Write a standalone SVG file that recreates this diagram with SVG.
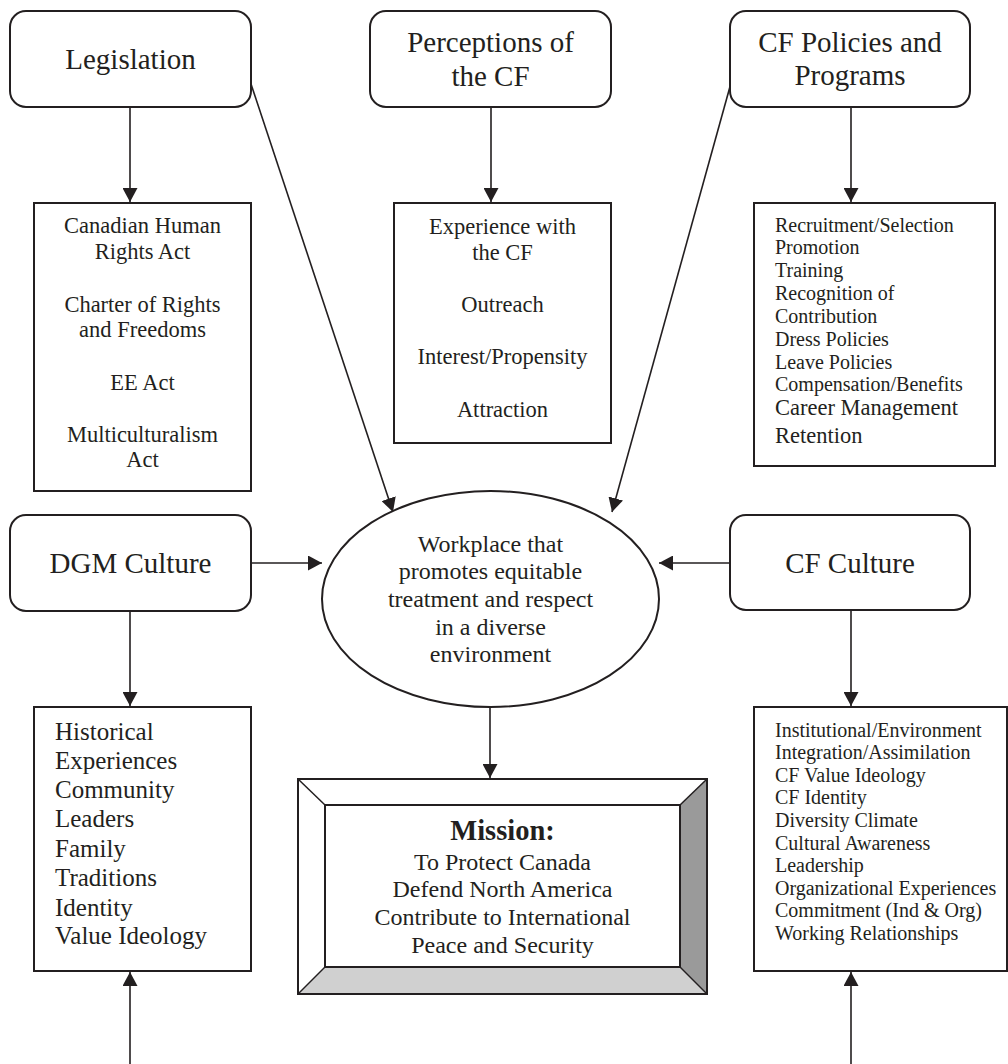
<svg xmlns="http://www.w3.org/2000/svg" width="1008" height="1064" viewBox="0 0 1008 1064">
<defs>
<marker id="ah" markerUnits="userSpaceOnUse" markerWidth="15" markerHeight="15" refX="14" refY="7.5" orient="auto">
<path d="M0,0 L14,7.5 L0,15 z" fill="#231f20"/>
</marker>
<style>
.rb{fill:#fff;stroke:#231f20;stroke-width:2}
.bx{fill:#fff;stroke:#231f20;stroke-width:2}
.t{font-family:"Liberation Serif","Times New Roman",serif;fill:#231f20}
.h{font-size:29px;text-anchor:middle}
.c{font-size:22.5px;text-anchor:middle}
.l20{font-size:20px}
.ln{stroke:#231f20;stroke-width:1.6;fill:none;marker-end:url(#ah)}
</style>
</defs>
<rect width="1008" height="1064" fill="#fff"/>

<g id="connectors">
<line class="ln" x1="130" y1="107" x2="130" y2="202"/>
<line class="ln" x1="491" y1="107" x2="491" y2="202"/>
<line class="ln" x1="851" y1="107" x2="851" y2="202"/>
<line class="ln" x1="251" y1="84" x2="393" y2="512"/>
<line class="ln" x1="731" y1="83" x2="612" y2="512"/>
<line class="ln" x1="251" y1="563" x2="322" y2="563"/>
<line class="ln" x1="730" y1="563" x2="659" y2="563"/>
<line class="ln" x1="130" y1="611" x2="130" y2="706"/>
<line class="ln" x1="851" y1="610" x2="851" y2="706"/>
<line class="ln" x1="490" y1="707" x2="490" y2="778"/>
<line class="ln" x1="130" y1="1064" x2="130" y2="972"/>
<line class="ln" x1="851" y1="1064" x2="851" y2="972"/>
</g>

<g id="legislation">
<rect class="rb" x="10" y="11" width="241" height="96" rx="16"/>
<text class="t h" x="130.5" y="69">Legislation</text>
</g>

<g id="perceptions">
<rect class="rb" x="370" y="11" width="241" height="96" rx="16"/>
<text class="t h" x="490.5" y="52">Perceptions of</text>
<text class="t h" x="490.5" y="86">the CF</text>
</g>

<g id="cf-policies">
<rect class="rb" x="730" y="11" width="240" height="96" rx="16"/>
<text class="t h" x="850" y="52">CF Policies and</text>
<text class="t h" x="850" y="85">Programs</text>
</g>

<g id="legislation-list">
<rect class="bx" x="34" y="203" width="217" height="288"/>
<text class="t c" x="142.5" y="233">Canadian Human</text>
<text class="t c" x="142.5" y="259">Rights Act</text>
<text class="t c" x="142.5" y="312">Charter of Rights</text>
<text class="t c" x="142.5" y="337">and Freedoms</text>
<text class="t c" x="142.5" y="390">EE Act</text>
<text class="t c" x="142.5" y="442">Multiculturalism</text>
<text class="t c" x="142.5" y="467">Act</text>
</g>

<g id="perceptions-list">
<rect class="bx" x="394" y="203" width="217" height="240"/>
<text class="t c" x="502.5" y="234">Experience with</text>
<text class="t c" x="502.5" y="260">the CF</text>
<text class="t c" x="502.5" y="312">Outreach</text>
<text class="t c" x="502.5" y="364">Interest/Propensity</text>
<text class="t c" x="502.5" y="417">Attraction</text>
</g>

<g id="policies-list">
<rect class="bx" x="754" y="203" width="241" height="263"/>
<text class="t l20" x="775" y="232">Recruitment/Selection</text>
<text class="t l20" x="775" y="254">Promotion</text>
<text class="t l20" x="775" y="277">Training</text>
<text class="t l20" x="775" y="300">Recognition of</text>
<text class="t l20" x="775" y="323">Contribution</text>
<text class="t l20" x="775" y="346">Dress Policies</text>
<text class="t l20" x="775" y="369">Leave Policies</text>
<text class="t l20" x="775" y="391">Compensation/Benefits</text>
<text class="t" style="font-size:22.5px" x="775" y="415">Career Management</text>
<text class="t" style="font-size:22.5px" x="775" y="443">Retention</text>
</g>

<g id="dgm-culture">
<rect class="rb" x="10" y="515" width="241" height="96" rx="16"/>
<text class="t h" x="130.5" y="573">DGM Culture</text>
</g>

<g id="workplace">
<ellipse cx="490.5" cy="599" rx="168.5" ry="108" fill="#fff" stroke="#231f20" stroke-width="2"/>
<text class="t" style="font-size:24px;text-anchor:middle" x="490.5" y="552">Workplace that</text>
<text class="t" style="font-size:24px;text-anchor:middle" x="490.5" y="579">promotes equitable</text>
<text class="t" style="font-size:24px;text-anchor:middle" x="490.5" y="607">treatment and respect</text>
<text class="t" style="font-size:24px;text-anchor:middle" x="490.5" y="635">in a diverse</text>
<text class="t" style="font-size:24px;text-anchor:middle" x="490.5" y="662">environment</text>
</g>

<g id="cf-culture">
<rect class="rb" x="730" y="515" width="240" height="95" rx="16"/>
<text class="t h" x="850" y="573">CF Culture</text>
</g>

<g id="dgm-list">
<rect class="bx" x="34" y="707" width="217" height="264"/>
<text class="t" style="font-size:25px" x="55" y="740">Historical</text>
<text class="t" style="font-size:25px" x="55" y="769">Experiences</text>
<text class="t" style="font-size:25px" x="55" y="798">Community</text>
<text class="t" style="font-size:25px" x="55" y="827">Leaders</text>
<text class="t" style="font-size:25px" x="55" y="857">Family</text>
<text class="t" style="font-size:25px" x="55" y="886">Traditions</text>
<text class="t" style="font-size:25px" x="55" y="916">Identity</text>
<text class="t" style="font-size:25px" x="55" y="944">Value Ideology</text>
</g>

<g id="cf-culture-list">
<rect class="bx" x="754" y="707" width="253" height="264"/>
<text class="t l20" x="775" y="737">Institutional/Environment</text>
<text class="t l20" x="775" y="759">Integration/Assimilation</text>
<text class="t l20" x="775" y="782">CF Value Ideology</text>
<text class="t l20" x="775" y="804">CF Identity</text>
<text class="t l20" x="775" y="827">Diversity Climate</text>
<text class="t l20" x="775" y="850">Cultural Awareness</text>
<text class="t l20" x="775" y="872">Leadership</text>
<text class="t l20" x="775" y="895">Organizational Experiences</text>
<text class="t l20" x="775" y="917">Commitment (Ind &amp; Org)</text>
<text class="t l20" x="775" y="940">Working Relationships</text>
</g>

<g id="mission">
<rect x="298" y="779" width="409" height="215" fill="#fff"/>
<polygon points="680,805 707,779 707,994 680,967" fill="#9a9a9a"/>
<polygon points="325,967 680,967 707,994 298,994" fill="#d0d0d0"/>
<rect x="298" y="779" width="409" height="215" fill="none" stroke="#231f20" stroke-width="2"/>
<rect x="325" y="805" width="355" height="162" fill="none" stroke="#231f20" stroke-width="2"/>
<line x1="298" y1="779" x2="325" y2="805" stroke="#231f20" stroke-width="1.5"/>
<line x1="707" y1="779" x2="680" y2="805" stroke="#231f20" stroke-width="1.5"/>
<line x1="298" y1="994" x2="325" y2="967" stroke="#231f20" stroke-width="1.5"/>
<line x1="707" y1="994" x2="680" y2="967" stroke="#231f20" stroke-width="1.5"/>
<text class="t" style="font-size:28.5px;font-weight:bold;text-anchor:middle" x="502.5" y="840">Mission:</text>
<text class="t" style="font-size:24px;text-anchor:middle" x="502.5" y="870">To Protect Canada</text>
<text class="t" style="font-size:24px;text-anchor:middle" x="502.5" y="897">Defend North America</text>
<text class="t" style="font-size:24px;text-anchor:middle" x="502.5" y="925">Contribute to International</text>
<text class="t" style="font-size:24px;text-anchor:middle" x="502.5" y="953">Peace and Security</text>
</g>
</svg>
